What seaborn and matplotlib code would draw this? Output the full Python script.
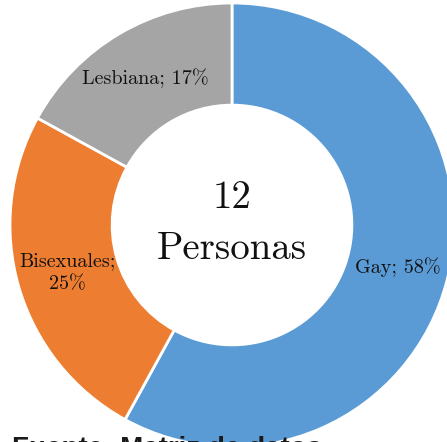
import matplotlib
matplotlib.use("Agg")
import matplotlib.pyplot as plt
import seaborn as sns

# data
categories = ["Gay", "Bisexuales", "Lesbiana"]
shares = [58, 25, 17]
label_texts = ["Gay; 58%", "Bisexuales;\n25%", "Lesbiana; 17%"]
center_count = "12"
center_word = "Personas"
source_note = "Fuente: Matriz de datos"

sns.set_theme(style="white")
colors = sns.color_palette(["#5B9BD5", "#ED7D31", "#A5A5A5"])

fig = plt.figure(figsize=(4.47, 4.42), dpi=100)
ax = fig.add_axes([10 / 447, -5 / 442, 444 / 447, 444 / 442])

wedges, texts = ax.pie(
    shares,
    labels=label_texts,
    colors=colors,
    startangle=90,
    counterclock=False,
    radius=1,
    labeldistance=0.77,
    wedgeprops=dict(width=0.46, edgecolor="white", linewidth=2),
)
for t in texts:
    t.set_ha("center")
    t.set_va("center")
    t.set_family("cmr10")
    t.set_fontsize(14.5)
    t.set_color("#111111")
    t.set_linespacing(1.35)

ax.text(0, 0.12, center_count, ha="center", va="center",
        family="cmr10", fontsize=28, color="#111111")
ax.text(0, -0.11, center_word, ha="center", va="center",
        family="cmr10", fontsize=28, color="#111111")

ax.set_xlim(-1, 1)
ax.set_ylim(-1, 1)
ax.axis("off")

fig.text(12 / 447, 1 - 436 / 442, source_note, ha="left", va="top",
         fontsize=20, fontweight="bold", color="#1a1a1a", family="Liberation Sans",
         zorder=10)

fig.savefig("out.png", dpi=100)
